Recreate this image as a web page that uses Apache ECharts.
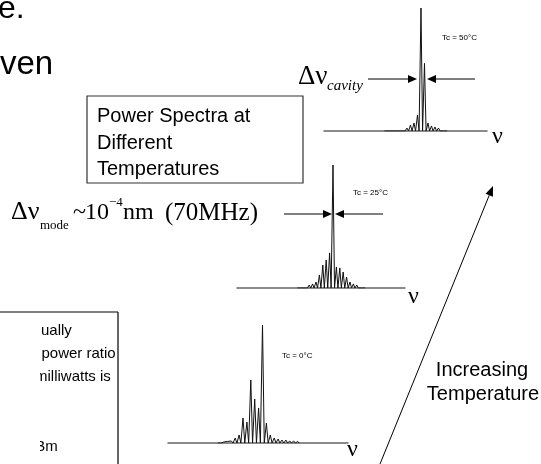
<!DOCTYPE html>
<html>
<head>
<meta charset="utf-8">
<script src="https://cdn.jsdelivr.net/npm/echarts@6/dist/echarts.min.js"></script>
<style>
  html, body { margin: 0; padding: 0; background: #fff; }
  #chart { width: 541px; height: 464px; }
</style>
</head>
<body>
<div id="chart"></div>
<script>
// longitudinal mode index (0 = dominant mode) and relative power (%) per spectrum
var modes50 = [-10, -9, -8, -7, -6, -5, -4, -3, -2, -1, 0, 1, 2, 3, 4, 5, 6, 7]
var power50 = [0.8, 0.8, 1.2, 1.2, 1.6, 1.6, 2.4, 4.9, 6.5, 13, 100, 55, 6.5, 4.1, 3.3, 2.4, 1.6, 0.8]

var modes25 = [-10, -9, -8, -7, -6, -5, -4, -3, -2, -1, 0, 1, 2, 3, 4, 5, 6, 7, 8, 9]
var power25 = [0.8, 1.2, 1.6, 2.4, 3.3, 4.9, 10.6, 18.7, 22.8, 28.5, 100, 17.1, 16.3, 13, 8.9, 4.9, 3.3, 2.4, 1.6, 1.2]

var modes0 = [-11, -10, -9, -8, -7, -6, -5, -4, -3, -2, -1, 0, 1, 2, 3, 4, 5, 6, 7, 8, 9]
var power0 = [0.8, 0.8, 1.3, 1.7, 4.2, 6.8, 21.2, 17.8, 53.4, 37.3, 29.7, 100, 16.9, 6.8, 4.2, 3.4, 2.5, 2.5, 1.7, 1.7, 1.3]

var labels = ['Tc = 50°C', 'Tc = 25°C', 'Tc = 0°C']

var SANS = '"Liberation Sans", Arial, sans-serif'
var SERIF = '"Liberation Serif", "Times New Roman", serif'

function spikes(modes, power) {
  var pts = []
  for (var i = 0; i < modes.length; i++) {
    pts.push([modes[i] - 0.45, 0])
    pts.push([modes[i], power[i]])
    pts.push([modes[i] + 0.45, 0])
  }
  return pts
}

function txt(x, y, s, font, extra) {
  var st = { text: s, font: font, fill: '#000', textVerticalAlign: 'middle' }
  if (extra) { for (var k in extra) st[k] = extra[k] }
  return { type: 'text', x: x, y: y, z: 10, style: st }
}

function line(x1, y1, x2, y2, w) {
  return { type: 'line', z: 10, shape: { x1: x1, y1: y1, x2: x2, y2: y2 }, style: { stroke: '#000', lineWidth: w || 1 } }
}

// arrow from (x1,y1) to tip (x2,y2)
function arrow(x1, y1, x2, y2, len, half) {
  var dx = x2 - x1, dy = y2 - y1
  var d = Math.sqrt(dx * dx + dy * dy)
  var ux = dx / d, uy = dy / d
  var bx = x2 - ux * len, by = y2 - uy * len
  return [
    line(x1, y1, bx, by, 1),
    { type: 'polygon', z: 10, shape: { points: [[x2, y2], [bx - uy * half, by + ux * half], [bx + uy * half, by - ux * half]] }, style: { fill: '#000' } }
  ]
}

var chart = echarts.init(document.getElementById('chart'))

var axisX = function (i, min, max) {
  return {
    gridIndex: i, type: 'value', min: min, max: max,
    axisLine: { show: true, lineStyle: { color: '#666', width: 1.5 } },
    axisTick: { show: false }, axisLabel: { show: false }, splitLine: { show: false }
  }
}
var axisY = function (i) {
  return { gridIndex: i, type: 'value', min: 0, max: 100, show: false }
}

var graphics = [
  txt(-2, 9, 'e.', '32px ' + SANS),
  txt(0, 65, 'ven', '33px ' + SANS),

  { type: 'rect', z: 10, shape: { x: 87, y: 96, width: 216, height: 87 }, style: { fill: 'none', stroke: '#333', lineWidth: 1.2 } },
  txt(97, 116, 'Power Spectra at', '20px ' + SANS),
  txt(97, 143, 'Different', '20px ' + SANS),
  txt(97, 169, 'Temperatures', '20px ' + SANS),

  txt(298, 77, 'Δν', '27px ' + SERIF),
  txt(327, 86, 'cavity', 'italic 15px ' + SERIF),

  txt(11, 212, 'Δν', '26px ' + SERIF),
  txt(40, 226, 'mode', '13px ' + SERIF),
  txt(73, 213, '~', '24px ' + SERIF),
  txt(85, 213, '10', '24px ' + SERIF),
  txt(109, 203, '−4', '13px ' + SERIF),
  txt(123, 213, 'nm', '24px ' + SERIF),
  txt(165, 213, '(70MHz)', '25px ' + SERIF),

  txt(442, 38, labels[0], '8px ' + SANS),
  txt(353, 193, labels[1], '8px ' + SANS),
  txt(282, 356, labels[2], '8px ' + SANS),

  txt(492, 137, 'ν', '24px ' + SERIF),
  txt(408, 297, 'ν', '24px ' + SERIF),
  txt(347, 450, 'ν', '24px ' + SERIF),

  // partly hidden text box at lower left
  line(0, 312, 118, 312, 1.2),
  line(118, 312, 118, 464, 1.2),
  txt(41, 331, 'ually', '15px ' + SANS),
  txt(19, 354, 'dB power ratio', '15px ' + SANS),
  txt(35, 377, 'milliwatts is', '15px ' + SANS),
  txt(27, 447, 'dBm', '15px ' + SANS),
  { type: 'rect', z: 20, shape: { x: 0, y: 314, width: 40, height: 150 }, style: { fill: '#fff' } },

  txt(482, 370, 'Increasing', '20px ' + SANS, { textAlign: 'center' }),
  txt(483, 394, 'Temperature', '20px ' + SANS, { textAlign: 'center' })
]
graphics = graphics
  .concat(arrow(368, 79, 417, 79, 9, 4))
  .concat(arrow(475, 79, 427, 79, 9, 4))
  .concat(arrow(284, 214, 332, 214, 9, 4))
  .concat(arrow(383, 214, 335, 214, 9, 4))
  .concat(arrow(380, 464, 493, 186, 10, 4))

chart.setOption({
  backgroundColor: '#fff',
  animation: false,
  grid: [
    { left: 324, top: 8, width: 163, height: 123 },
    { left: 237, top: 165, width: 168, height: 123 },
    { left: 168, top: 325, width: 180, height: 118 }
  ],
  xAxis: [
    axisX(0, -27.71, 18.86),
    axisX(1, -28.24, 21.18),
    axisX(2, -24.23, 21.92)
  ],
  yAxis: [axisY(0), axisY(1), axisY(2)],
  series: [
    { name: labels[0], type: 'line', xAxisIndex: 0, yAxisIndex: 0, showSymbol: false, lineStyle: { color: '#111', width: 1 }, data: spikes(modes50, power50) },
    { name: labels[1], type: 'line', xAxisIndex: 1, yAxisIndex: 1, showSymbol: false, lineStyle: { color: '#111', width: 1 }, data: spikes(modes25, power25) },
    { name: labels[2], type: 'line', xAxisIndex: 2, yAxisIndex: 2, showSymbol: false, lineStyle: { color: '#111', width: 1 }, data: spikes(modes0, power0) }
  ],
  graphic: graphics
})
</script>
</body>
</html>
